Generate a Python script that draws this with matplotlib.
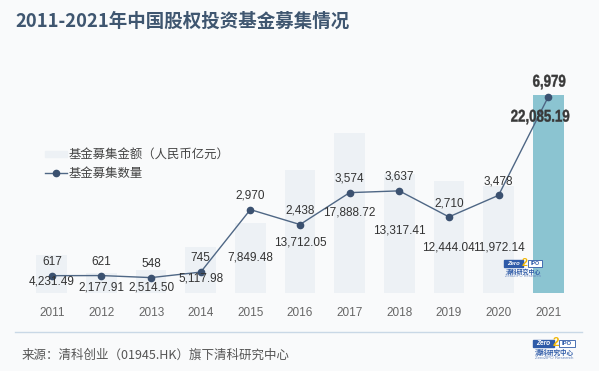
import matplotlib.pyplot as plt
from matplotlib.patches import Rectangle, PathPatch
from matplotlib.textpath import TextPath
from matplotlib.font_manager import FontProperties
from matplotlib.transforms import Affine2D, IdentityTransform

plt.rcParams['font.family'] = ['Liberation Sans', 'Noto Sans CJK SC', 'DejaVu Sans']

# data
years = ["2011", "2012", "2013", "2014", "2015", "2016", "2017", "2018", "2019", "2020", "2021"]
amount = [4231.49, 2177.91, 2514.50, 5117.98, 7849.48, 13712.05, 17888.72, 13317.41, 12444.04, 11972.14, 22085.19]
count = [617, 621, 548, 745, 2970, 2438, 3574, 3637, 2710, 3478, 6979]

# label offsets under the line points (pixels)
amt_dy = [6, 12, 10, 6, 48, 18, 20, 40, 31, 52, 20]

W, H = 599, 371
bg = "#f9fafb"
fig = plt.figure(figsize=(W / 100, H / 100), dpi=100, facecolor=bg)


def fx(x):
    return x / W


def fy(y):
    return 1 - y / H


def narrow_text(s, cx, cy, size, sx=0.78, color="#383838"):
    # bold condensed label, centred at pixel (cx, cy) from top-left
    tp = TextPath((0, 0), s, size=size, prop=FontProperties(family="Liberation Sans", weight="bold"))
    bb = tp.get_extents()
    tr = (Affine2D().translate(-(bb.x0 + bb.x1) / 2, -(bb.y0 + bb.y1) / 2)
          .scale(sx, 1).translate(cx, H - cy))
    fig.patches.append(PathPatch(tr.transform_path(tp), transform=IdentityTransform(),
                                 color=color, lw=0.3, zorder=6))


ax = fig.add_axes([fx(27), fy(293), fx(573) - fx(27), fy(60) - fy(293)])
ax.set_facecolor("none")
x = list(range(len(years)))
colors = ["#edf1f5"] * (len(years) - 1) + ["#8bc4d1"]
ax.bar(x, amount, width=0.62, color=colors, zorder=1)
ax.set_xlim(-0.5, len(years) - 0.5)
ax.set_ylim(0, 25990)
ax.set_xticks(x)
ax.set_xticklabels(years, fontsize=8.5, color="#666666")
ax.tick_params(axis="x", length=0, pad=10)
ax.set_yticks([])
for s in ax.spines.values():
    s.set_visible(False)

ax2 = ax.twinx()
ax2.set_ylim(0, 8297)
ax2.set_yticks([])
for s in ax2.spines.values():
    s.set_visible(False)
ax2.plot(x, count, color="#4f6785", lw=1, marker="o", ms=4.5,
         mfc="#3b5170", mec="#3b5170", zorder=3)

fig.canvas.draw()
for i in x:
    if i == len(years) - 1:
        px, py = ax2.transData.transform((i, count[i]))
        narrow_text(f"{count[i]:,}", px + 1, (H - py) - 15, 17)
        narrow_text(f"{amount[i]:,.2f}", px - 8, (H - py) + 20, 17)
        continue
    ax2.annotate(f"{count[i]:,}", (i, count[i]), xytext=(0, 10),
                 textcoords="offset points", ha="center", va="center", zorder=4,
                 fontsize=8.5, color="#333333")
    ax2.annotate(f"{amount[i]:,.2f}", (i, count[i]), xytext=(0, -amt_dy[i] * 0.72),
                 textcoords="offset points", ha="center", va="center", zorder=4,
                 fontsize=8.5, color="#333333")

# legend (manual)
fig.patches.append(Rectangle((fx(45), fy(157)), fx(67) - fx(45), fy(151) - fy(157),
                             transform=fig.transFigure, color="#edf1f5"))
fig.text(fx(69), fy(154), "基金募集金额（人民币亿元）", fontsize=8.9, color="#444444",
         va="center", family=["Noto Sans CJK SC"])
fig.lines.append(plt.Line2D([fx(45), fx(67)], [fy(173), fy(173)], transform=fig.transFigure,
                            color="#4f6785", lw=1))
fig.lines.append(plt.Line2D([fx(56)], [fy(173)], transform=fig.transFigure, marker="o",
                            ms=4.5, color="#3b5170"))
fig.text(fx(69), fy(173), "基金募集数量", fontsize=8.9, color="#444444",
         va="center", family=["Noto Sans CJK SC"])

# title
fig.text(fx(15), fy(21), "2011-2021年中国股权投资基金募集情况", fontsize=13.3,
         fontweight="bold", color="#3f5670", va="center", family=["Noto Sans CJK SC"])

# footer
fig.lines.append(plt.Line2D([fx(15), fx(582)], [fy(332), fy(332)], transform=fig.transFigure,
                            color="#c9d8e6", lw=1))
fig.text(fx(22), fy(355), "来源：清科创业（01945.HK）旗下清科研究中心", fontsize=9,
         color="#555555", va="center", family=["Noto Sans CJK SC", "DejaVu Sans"])


def draw_logo(x0, y0, w):
    s = w / 40
    blue = "#2f5ba8"
    fig.patches.append(Rectangle((fx(x0), fy(y0 + 7 * s)), fx(20 * s), 7 * s / H,
                                 transform=fig.transFigure, color=blue, zorder=5))
    fig.text(fx(x0 + 10 * s), fy(y0 + 3.5 * s), "Zero", fontsize=4.5 * s, color="white",
             fontweight="bold", style="italic", ha="center", va="center", zorder=6)
    fig.text(fx(x0 + 22 * s), fy(y0 + 3 * s), "2", fontsize=8 * s, color="#f2b705",
             fontweight="bold", ha="center", va="center", zorder=6)
    fig.patches.append(Rectangle((fx(x0 + 25 * s), fy(y0 + 7 * s)), fx(15 * s), 7 * s / H,
                                 transform=fig.transFigure, facecolor="white",
                                 edgecolor=blue, lw=0.6, zorder=5))
    fig.text(fx(x0 + 32.5 * s), fy(y0 + 3.5 * s), "IPO", fontsize=4 * s, color=blue,
             fontweight="bold", ha="center", va="center", zorder=6)
    fig.text(fx(x0 + 20 * s), fy(y0 + 12 * s), "清科研究中心", fontsize=4.5 * s, color=blue,
             fontweight="bold", ha="center", va="center", zorder=6,
             family=["Noto Sans CJK SC"])
    fig.text(fx(x0 + 20 * s), fy(y0 + 17 * s), "Zero2IPO Research", fontsize=3 * s,
             color="#6a87bd", ha="center", va="center", zorder=6)


draw_logo(504, 260, 38)
draw_logo(533, 340, 42)

fig.savefig("out.png", dpi=100, facecolor=bg)
